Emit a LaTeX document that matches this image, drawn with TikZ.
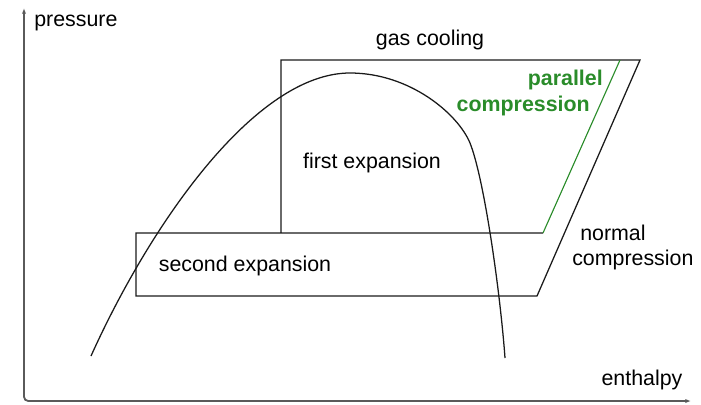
\documentclass[tikz,border=0pt]{standalone}
\usepackage{fontspec}
\setmainfont{Liberation Sans}
\usetikzlibrary{arrows.meta}
\definecolor{CycleBlack}{HTML}{1A1A1A}
\definecolor{AxisGray}{HTML}{5A5A5A}
\definecolor{ParallelGreen}{HTML}{2A8C2A}
\tikzset{
  axisline/.style={draw=AxisGray,line width=1.3pt,rounded corners=3pt},
  cycleline/.style={draw=CycleBlack,line width=.9pt},
  domeline/.style={draw=CycleBlack,line width=.9pt},
  lbl/.style={inner sep=0pt,font=\fontsize{15.2}{19}\selectfont},
  lblbold/.style={inner sep=0pt,font=\fontsize{15.2}{19}\selectfont\bfseries},
}

\begin{document}
\begin{tikzpicture}[x=0.025cm,y=-0.025cm]
  \useasboundingbox (0,0) rectangle (701,404);
  % axes
  \coordinate (ptop) at (24,8);
  \coordinate (origin) at (24,401);
  \coordinate (hend) at (691,401);
  \draw[axisline,{Latex[length=4pt,width=3pt]}-{Latex[length=4pt,width=3pt]}] (ptop) -- (origin) -- (hend);

  % cycle corners
  \coordinate (gcL) at (281,60);
  \coordinate (gcR) at (640,60);
  \coordinate (pcTop) at (620,60);
  \coordinate (midL) at (136,233);
  \coordinate (midJ) at (281,233);
  \coordinate (midR) at (543,233);
  \coordinate (lowL) at (136,296);
  \coordinate (lowR) at (537,296);
  \draw[cycleline] (midJ) -- (gcL) -- (gcR) -- (lowR) -- (lowL) -- (midL) -- (midR);
  \draw[draw=ParallelGreen,line width=.8pt] (midR) -- (pcTop);

  % two-phase dome
  \coordinate (domeL) at (91,356);
  \coordinate (domeTop) at (350,73);
  \coordinate (domeS) at (470,143);
  \coordinate (domeR) at (505,358);
  \draw[domeline] (domeL) .. controls (150,225) and (255,73) .. (domeTop)
    .. controls (410,73) and (458,114) .. (domeS)
    .. controls (484,178) and (500,290) .. (domeR);

  \node[lbl,anchor=west] (pressure) at (34,23) {pressure};
  \node[lbl] (gascool) at (430,40) {gas cooling};
  \node[lblbold,anchor=east,text=ParallelGreen] (parallel) at (603,80) {parallel};
  \node[lblbold,anchor=east,text=ParallelGreen] (parcomp) at (590,106) {compression};
  \node[lbl] (firstexp) at (372,163) {first expansion};
  \node[lbl] (secondexp) at (245,266) {second expansion};
  \node[lbl,anchor=west] (normal) at (580,233) {normal};
  \node[lbl,anchor=west] (normcomp) at (572,260) {compression};
  \node[lbl] (enthalpy) at (642,380) {enthalpy};
\end{tikzpicture}
\end{document}
